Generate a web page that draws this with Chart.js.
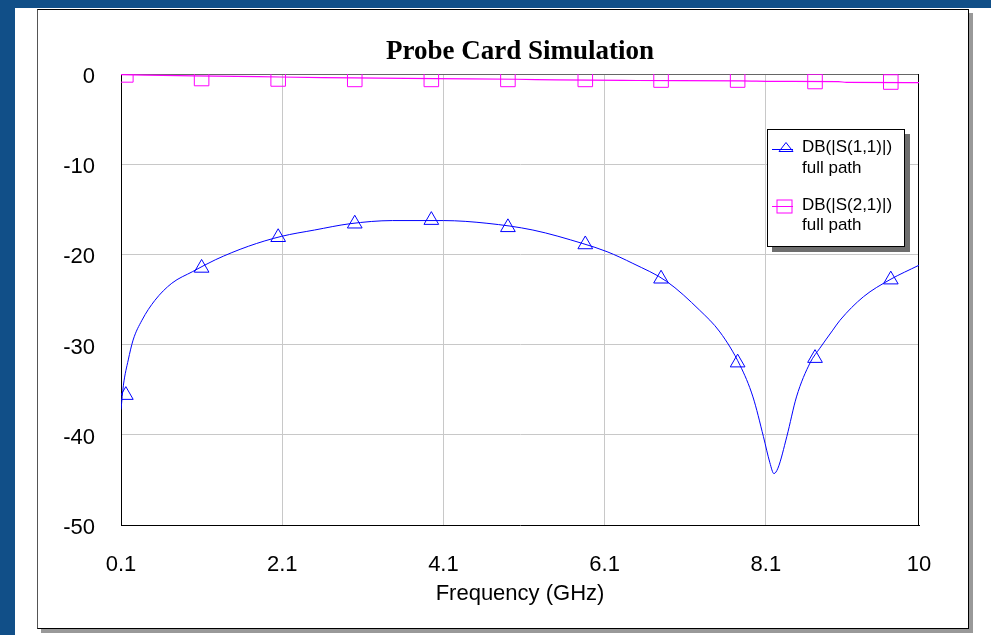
<!DOCTYPE html>
<html>
<head>
<meta charset="utf-8">
<script src="https://cdn.jsdelivr.net/npm/chart.js@4/dist/chart.umd.min.js"></script>
<style>
  html, body { margin: 0; padding: 0; }
  body { width: 991px; height: 635px; overflow: hidden; position: relative;
         background: #114f88; font-family: "Liberation Sans", Arial, sans-serif; }
  .panel { position: absolute; left: 15px; top: 8px; width: 976px; height: 627px; background: #fff; }
  .frame { position: absolute; left: 37px; top: 9px; width: 930px; height: 618px;
           border: 1px solid #000; border-left-color: #555; background: #fff;
           box-shadow: 4px 4px 0 #999; }
  #chart { position: absolute; left: 0; top: 0; }
  .legend { position: absolute; left: 767px; top: 129px; width: 136px; height: 116px;
            border: 1px solid #000; background: #fff; box-shadow: 5px 5px 0 #6e6e6e; }
  .legend .txt { position: absolute; left: 34px; font-size: 17px; line-height: 20px; color: #000; white-space: nowrap; }
  .legend svg { position: absolute; left: 0; top: 0; }
</style>
</head>
<body>
<div class="panel"></div>
<div class="frame"></div>
<canvas id="chart" width="991" height="635"></canvas>
<div class="legend">
  <svg width="40" height="116">
    <line x1="4" y1="19.5" x2="25" y2="19.5" stroke="#0000ff" stroke-width="1"/>
    <polygon points="18,12.5 11,21.5 25,21.5" fill="none" stroke="#0000ff" stroke-width="1"/>
    <line x1="4" y1="76.5" x2="25" y2="76.5" stroke="#ff00ff" stroke-width="1"/>
    <rect x="9" y="70" width="15" height="13" fill="none" stroke="#ff00ff" stroke-width="1"/>
  </svg>
  <div class="txt" style="top:7px">DB(|S(1,1)|)</div>
  <div class="txt" style="top:28px">full path</div>
  <div class="txt" style="top:65px">DB(|S(2,1)|)</div>
  <div class="txt" style="top:85px">full path</div>
</div>
<script>
// DB(|S(1,1)|) full path
const s11Freq = [0.1, 0.13, 0.19, 0.25, 0.36, 0.52, 0.73, 0.99, 1.27, 1.68, 2.09, 2.5, 2.94, 3.47, 4.1,
  4.64, 5.21, 5.83, 6.13, 6.45, 6.87, 7.28, 7.53, 7.78, 7.94, 8.07, 8.15, 8.2, 8.25, 8.36, 8.48,
  8.65, 8.77, 8.93, 9.02, 9.31, 9.64, 10];
const s11Db = [-37.2, -34.5, -31.7, -29.5, -27.3, -25.1, -23.2, -21.9, -20.6, -19.1, -18.0, -17.3, -16.6, -16.25, -16.25,
  -16.55, -17.3, -18.8, -19.7, -21.0, -23.0, -26.2, -28.6, -32.3, -35.8, -40.2, -43.1, -44.3, -43.7, -40.2, -35.8,
  -32.0, -30.4, -28.4, -27.3, -24.7, -22.8, -21.2];

// DB(|S(2,1)|) full path
const s21Freq = [0.1, 0.4, 1.0, 1.8, 2.6, 3.3, 4.0, 5.0, 5.5, 6.5, 7.8, 8.2, 9.0, 9.1, 10];
const s21Db = [-0.08, -0.12, -0.2, -0.3, -0.4, -0.45, -0.52, -0.58, -0.66, -0.72, -0.76, -0.82, -0.85, -0.92, -0.95];

// marker positions
const markFreq = [0.16, 1.1, 2.05, 3.0, 3.95, 4.9, 5.86, 6.8, 7.75, 8.71, 9.65];
const s11Marks = [-35.6, -21.5, -18.1, -16.6, -16.2, -17.0, -18.9, -22.7, -32.0, -31.5, -22.8];
const s21Marks = [-0.1, -0.5, -0.55, -0.6, -0.6, -0.6, -0.6, -0.67, -0.67, -0.83, -0.89];

const xTicks = [0.1, 2.1, 4.1, 6.1, 8.1, 10];
const yTicks = [0, -10, -20, -30, -40, -50];

const pts = (xs, ys) => xs.map((x, i) => ({ x, y: ys[i] }));
const BLUE = '#0000ff';
const MAGENTA = '#ff00ff';
const GRID = '#c8c8c8';
const tickFont = { family: "'Liberation Sans', Arial, sans-serif", size: 22 };

// top and right edges of the plot box, under the traces
const framePlugin = {
  id: 'frame',
  beforeDatasetsDraw(chart) {
    const { ctx, chartArea: a } = chart;
    ctx.save();
    ctx.lineWidth = 1;
    ctx.strokeStyle = '#666';
    ctx.beginPath();
    ctx.moveTo(a.left, a.top + 0.5);
    ctx.lineTo(a.right, a.top + 0.5);
    ctx.stroke();
    ctx.strokeStyle = '#000';
    ctx.beginPath();
    ctx.moveTo(a.right - 0.5, a.top);
    ctx.lineTo(a.right - 0.5, a.bottom);
    ctx.stroke();
    ctx.restore();
  },
};

const edgeGrid = (lo, hi) => (c) =>
  (c.tick && (Math.abs(c.tick.value - lo) < 1e-6 || Math.abs(c.tick.value - hi) < 1e-6)) ? 'rgba(0,0,0,0)' : GRID;

new Chart(document.getElementById('chart'), {
  type: 'scatter',
  data: {
    datasets: [
      { data: pts(s11Freq, s11Db), showLine: true, borderColor: BLUE, borderWidth: 1, pointRadius: 0,
        cubicInterpolationMode: 'monotone', clip: 0 },
      { data: pts(markFreq, s11Marks), showLine: false, pointStyle: 'triangle', pointRadius: 8.5,
        borderColor: BLUE, backgroundColor: 'rgba(0,0,0,0)', pointBorderWidth: 1, clip: 0 },
      { data: pts(s21Freq, s21Db), showLine: true, borderColor: MAGENTA, borderWidth: 1.2, pointRadius: 0,
        cubicInterpolationMode: 'monotone', clip: 0 },
      { data: pts(markFreq, s21Marks), showLine: false, pointStyle: 'rect', pointRadius: 10.3,
        borderColor: MAGENTA, backgroundColor: 'rgba(0,0,0,0)', pointBorderWidth: 1, clip: 0 },
    ],
  },
  options: {
    responsive: false,
    animation: false,
    events: [],
    layout: { padding: { top: 33.6, right: 72, bottom: 28.2, left: 0 } },
    plugins: {
      legend: { display: false },
      tooltip: { enabled: false },
      title: {
        display: true,
        fullSize: false,
        text: 'Probe Card Simulation',
        color: '#000',
        font: { family: "'Liberation Serif', 'Times New Roman', serif", size: 27, weight: 'bold' },
        padding: { top: 2, bottom: 6 },
      },
    },
    scales: {
      x: {
        type: 'linear',
        min: 0.1,
        max: 10,
        afterBuildTicks: (axis) => { axis.ticks = xTicks.map((v) => ({ value: v })); },
        afterFit: (axis) => { axis.height = 81.8; },
        ticks: { color: '#000', font: tickFont, padding: 27, autoSkip: false, maxRotation: 0,
                 callback: (v) => String(Math.round(v * 10) / 10) },
        grid: { color: edgeGrid(0.1, 10), drawTicks: false, lineWidth: 1 },
        border: { display: true, color: '#000', width: 1 },
        title: { display: true, text: 'Frequency (GHz)', color: '#000', font: tickFont, padding: 0 },
      },
      y: {
        type: 'linear',
        min: -50,
        max: 0,
        afterBuildTicks: (axis) => { axis.ticks = yTicks.map((v) => ({ value: v })); },
        afterFit: (axis) => { axis.width = 121; },
        ticks: { color: '#000', font: tickFont, padding: 26, labelOffset: 3 },
        grid: { color: edgeGrid(-50, 0), drawTicks: false, lineWidth: 1 },
        border: { display: true, color: '#000', width: 1 },
      },
    },
  },
  plugins: [framePlugin],
});
</script>
</body>
</html>
